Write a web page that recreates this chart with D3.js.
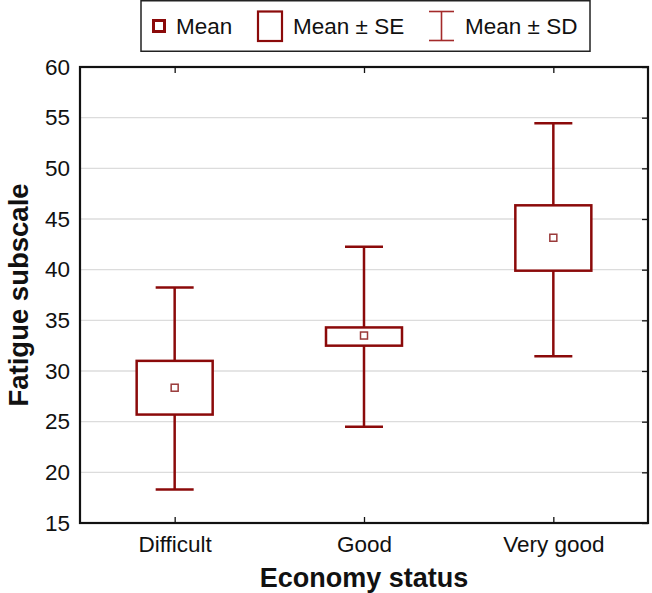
<!DOCTYPE html>
<html>
<head>
<meta charset="utf-8">
<script src="https://cdn.jsdelivr.net/npm/d3@7"></script>
<style>
  html, body { margin: 0; padding: 0; background: #fff; }
  svg { display: block; font-family: "Liberation Sans", Arial, sans-serif; }
</style>
</head>
<body>
<svg id="chart" width="652" height="593"></svg>
<script>
// ---- data ----
const categories = ["Difficult", "Good", "Very good"];
const means  = [28.35, 33.5, 43.15];
const seLow  = [25.7, 32.5, 39.9];
const seHigh = [31.0, 34.3, 46.35];
const sdLow  = [18.3, 24.5, 31.45];
const sdHigh = [38.25, 42.25, 54.45];
const yTicks = [15, 20, 25, 30, 35, 40, 45, 50, 55, 60];
const legendLabels = ["Mean", "Mean \u00b1 SE", "Mean \u00b1 SD"];
const xTitle = "Economy status";
const yTitle = "Fatigue subscale";

const red = "#8b0a0a";
const svg = d3.select("#chart");
const m = { left: 80, right: 648, top: 67, bottom: 523 };

const x = d3.scalePoint().domain(categories).range([m.left, m.right]).padding(0.5);
const y = d3.scaleLinear().domain([15, 60]).range([m.bottom, m.top]);

// gridlines
svg.append("g").selectAll("line").data(yTicks.filter(t => t > 15 && t < 60)).join("line")
  .attr("x1", m.left).attr("x2", m.right)
  .attr("y1", d => y(d)).attr("y2", d => y(d))
  .attr("stroke", "#dcdcdc").attr("stroke-width", 1.3);

// y axis labels
const yAxis = d3.axisLeft(y).tickValues(yTicks).tickSize(0).tickPadding(10);
const gy = svg.append("g").attr("transform", `translate(${m.left},0)`).call(yAxis);
gy.select(".domain").remove();
gy.selectAll("text").attr("font-size", 22.5).attr("fill", "#111")
  .attr("font-family", "Liberation Sans, Arial, sans-serif");

// right axis inward ticks
const yAxisR = d3.axisLeft(y).tickValues(yTicks).tickSize(6).tickFormat("");
const gyr = svg.append("g").attr("transform", `translate(${m.right},0)`).call(yAxisR);
gyr.select(".domain").remove();
gyr.selectAll("line").attr("stroke", "#111").attr("stroke-width", 1.3);

// x axis labels
const xAxis = d3.axisBottom(x).tickSize(-6).tickPadding(13);
const gx = svg.append("g").attr("transform", `translate(0,${m.bottom})`).call(xAxis);
gx.select(".domain").remove();
gx.selectAll("line").attr("stroke", "#111").attr("stroke-width", 1.3);
gx.selectAll("text").attr("font-size", 22.5).attr("fill", "#111")
  .attr("font-family", "Liberation Sans, Arial, sans-serif");

// top axis inward ticks
const xAxisT = d3.axisTop(x).tickSize(-6).tickFormat("");
const gxt = svg.append("g").attr("transform", `translate(0,${m.top})`).call(xAxisT);
gxt.select(".domain").remove();
gxt.selectAll("line").attr("stroke", "#111").attr("stroke-width", 1.3);

// plot frame
svg.append("rect").attr("x", m.left).attr("y", m.top)
  .attr("width", m.right - m.left).attr("height", m.bottom - m.top)
  .attr("fill", "none").attr("stroke", "#111").attr("stroke-width", 2.2);

// boxes
const boxHalf = 38, capHalf = 19;
const g = svg.append("g");
categories.forEach((c, i) => {
  const cx = x(c);
  g.append("line").attr("x1", cx).attr("x2", cx).attr("y1", y(seHigh[i])).attr("y2", y(sdHigh[i]))
    .attr("stroke", red).attr("stroke-width", 2.5);
  g.append("line").attr("x1", cx).attr("x2", cx).attr("y1", y(seLow[i])).attr("y2", y(sdLow[i]))
    .attr("stroke", red).attr("stroke-width", 2.5);
  g.append("line").attr("x1", cx - capHalf).attr("x2", cx + capHalf).attr("y1", y(sdHigh[i])).attr("y2", y(sdHigh[i]))
    .attr("stroke", red).attr("stroke-width", 2.5);
  g.append("line").attr("x1", cx - capHalf).attr("x2", cx + capHalf).attr("y1", y(sdLow[i])).attr("y2", y(sdLow[i]))
    .attr("stroke", red).attr("stroke-width", 2.5);
  g.append("rect").attr("x", cx - boxHalf).attr("y", y(seHigh[i]))
    .attr("width", boxHalf * 2).attr("height", y(seLow[i]) - y(seHigh[i]))
    .attr("fill", "#fff").attr("stroke", red).attr("stroke-width", 2.5);
  g.append("rect").attr("x", cx - 3.5).attr("y", y(means[i]) - 3.5)
    .attr("width", 7).attr("height", 7)
    .attr("fill", "#fff").attr("stroke", "#9a3a3a").attr("stroke-width", 1.5);
});

// axis titles
svg.append("text").attr("x", (m.left + m.right) / 2).attr("y", 587)
  .attr("text-anchor", "middle").attr("font-size", 27).attr("font-weight", "bold")
  .attr("fill", "#111").text(xTitle);
svg.append("text").attr("transform", `translate(28,${(m.top + m.bottom) / 2}) rotate(-90)`)
  .attr("text-anchor", "middle").attr("font-size", 27.5).attr("font-weight", "bold")
  .attr("fill", "#111").text(yTitle);

// legend
const lg = svg.append("g");
lg.append("rect").attr("x", 141).attr("y", 0.75).attr("width", 449).attr("height", 50.5)
  .attr("fill", "#fff").attr("stroke", "#222").attr("stroke-width", 1.5);
const ly = 26;
lg.append("rect").attr("x", 153.5).attr("y", ly - 5.5).attr("width", 11).attr("height", 11)
  .attr("fill", "#fff").attr("stroke", red).attr("stroke-width", 3);
lg.append("text").attr("x", 176).attr("y", ly).attr("dy", "0.35em")
  .attr("font-size", 22.5).attr("fill", "#111").text(legendLabels[0]);
lg.append("rect").attr("x", 258).attr("y", 11.5).attr("width", 24).attr("height", 29.5)
  .attr("fill", "#fff").attr("stroke", red).attr("stroke-width", 2.2);
lg.append("text").attr("x", 293).attr("y", ly).attr("dy", "0.35em")
  .attr("font-size", 22.5).attr("fill", "#111").text(legendLabels[1]);
const sdx = 441.5;
lg.append("line").attr("x1", sdx).attr("x2", sdx).attr("y1", 11.5).attr("y2", 40.5)
  .attr("stroke", "#a32a2a").attr("stroke-width", 1.6);
lg.append("line").attr("x1", sdx - 12.5).attr("x2", sdx + 12.5).attr("y1", 11.5).attr("y2", 11.5)
  .attr("stroke", "#a32a2a").attr("stroke-width", 1.6);
lg.append("line").attr("x1", sdx - 12.5).attr("x2", sdx + 12.5).attr("y1", 40.5).attr("y2", 40.5)
  .attr("stroke", "#a32a2a").attr("stroke-width", 1.6);
lg.append("text").attr("x", 465).attr("y", ly).attr("dy", "0.35em")
  .attr("font-size", 22.5).attr("fill", "#111").text(legendLabels[2]);
</script>
</body>
</html>
